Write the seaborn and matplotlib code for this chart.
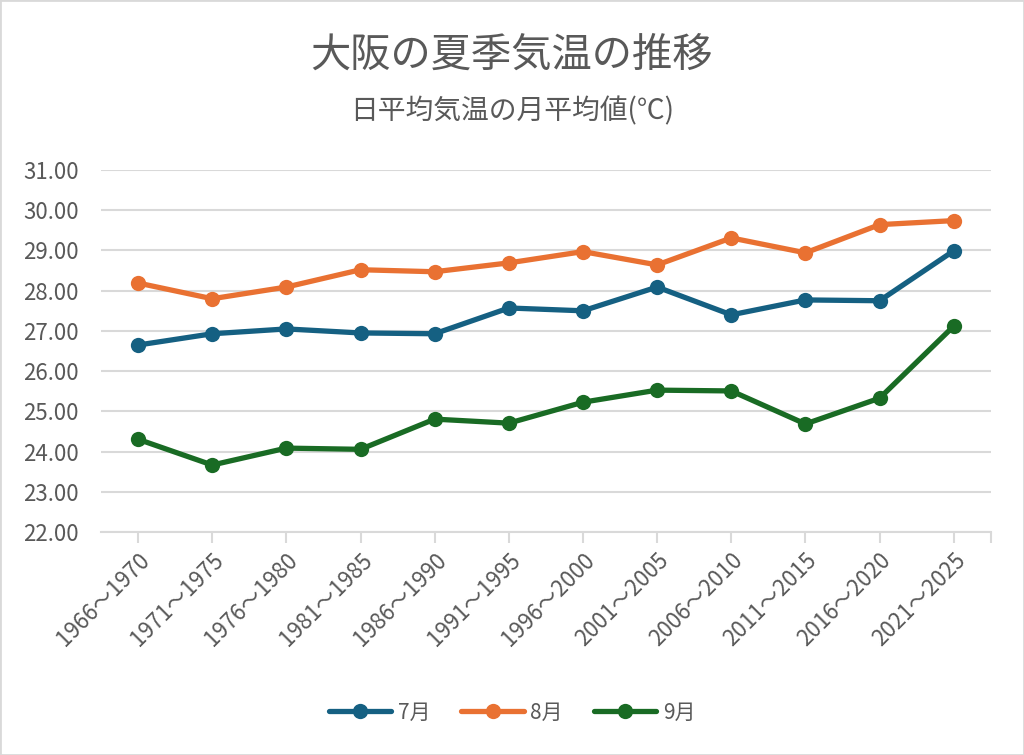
import matplotlib
matplotlib.use('Agg')
import matplotlib.pyplot as plt
import seaborn as sns
import pandas as pd

# DATA

periods = ['1966～1970', '1971～1975', '1976～1980', '1981～1985', '1986～1990', '1991～1995',
           '1996～2000', '2001～2005', '2006～2010', '2011～2015', '2016～2020', '2021～2025']
jul = [26.65, 26.93, 27.05, 26.95, 26.93, 27.57, 27.50, 28.09, 27.40, 27.77, 27.75, 28.99]
aug = [28.19, 27.80, 28.09, 28.52, 28.47, 28.69, 28.97, 28.64, 29.31, 28.94, 29.64, 29.74]
sep = [24.31, 23.67, 24.09, 24.06, 24.81, 24.71, 25.23, 25.53, 25.51, 24.69, 25.33, 27.12]
months = ['7月', '8月', '9月']
colors = ['#156082', '#E97132', '#196B24']

rows = []
for m, vals in zip(months, [jul, aug, sep]):
    for p, v in zip(periods, vals):
        rows.append({'period': p, 'month': m, 'temp': v})
df = pd.DataFrame(rows)

# STYLE

sns.set_theme(style='white')
plt.rcParams['font.family'] = ['Noto Sans CJK JP', 'DejaVu Sans']
gray = '#595959'

fig = plt.figure(figsize=(10.24, 7.55), dpi=100)
fig.patches.append(plt.Rectangle((0, 0), 1, 1, transform=fig.transFigure,
                                 fill=False, edgecolor='#D9D9D9', linewidth=2))
ax = fig.add_axes([0.0986, 0.295, 0.869, 0.48])

sns.lineplot(data=df, x='period', y='temp', hue='month', palette=colors,
             marker='o', markersize=11, markeredgewidth=0, linewidth=3.8,
             sort=False, ax=ax)

ax.set_xlim(-0.5, len(periods) - 0.5)
ax.set_ylim(22, 31)
ax.set_yticks(range(22, 32))
ax.set_yticklabels([f'{v:.2f}' for v in range(22, 32)], fontsize=16, color=gray)
ax.set_xticks(range(len(periods)))
ax.set_xticklabels(periods, rotation=45, ha='right', rotation_mode='anchor',
                   fontsize=16, color=gray)
# excel draws one extra tick at the right end of the axis
ax.set_xticks([len(periods) - 0.5], minor=True)
ax.yaxis.grid(True, color='#D9D9D9', linewidth=1.5)
ax.set_axisbelow(True)
for s in ['top', 'right', 'left']:
    ax.spines[s].set_visible(False)
ax.spines['bottom'].set_color('#D9D9D9')
ax.spines['bottom'].set_linewidth(1.5)
ax.tick_params(axis='x', which='both', bottom=True, length=8, width=1.5, color='#D9D9D9', pad=4)
ax.tick_params(axis='y', left=False, length=0, pad=16)
ax.set_xlabel('')
ax.set_ylabel('')

fig.text(0.5, 0.927, '大阪の夏季気温の推移', ha='center', va='center', fontsize=29, color=gray)
fig.text(0.5, 0.853, '日平均気温の月平均値(℃)', ha='center', va='center', fontsize=20, color=gray)

leg = ax.legend(loc='center', bbox_to_anchor=(0.5, 0.056), bbox_transform=fig.transFigure,
                ncol=3, frameon=False, fontsize=15, handlelength=3,
                columnspacing=1.5, handletextpad=0.3)
for t in leg.get_texts():
    t.set_color(gray)

fig.savefig('out.png', dpi=100)
